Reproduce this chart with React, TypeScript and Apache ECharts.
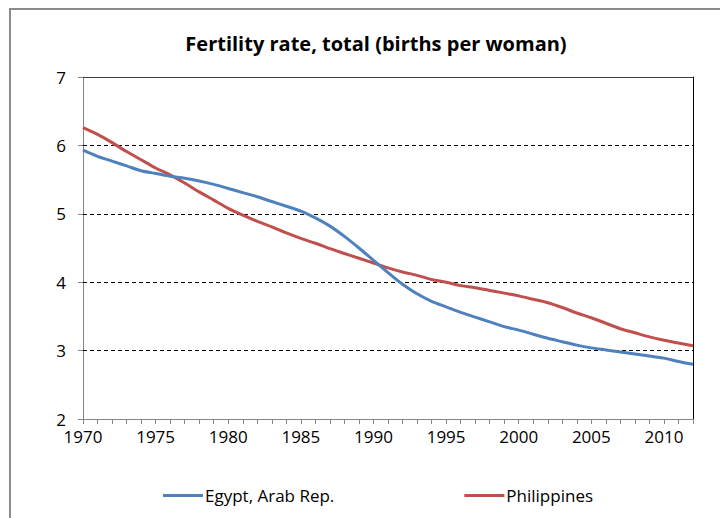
import React, { useEffect, useRef } from "react";
import * as echarts from "echarts";

const years: string[] = [];
for (let y = 1970; y <= 2012; y++) years.push(String(y));

const egypt = [
  5.93, 5.84, 5.77, 5.70, 5.63, 5.59, 5.55, 5.52, 5.48, 5.43,
  5.37, 5.31, 5.25, 5.18, 5.11, 5.04, 4.94, 4.82, 4.67, 4.50,
  4.32, 4.14, 3.97, 3.83, 3.72, 3.64, 3.56, 3.49, 3.42, 3.35,
  3.30, 3.24, 3.18, 3.13, 3.08, 3.04, 3.01, 2.98, 2.95, 2.92,
  2.89, 2.84, 2.80,
];

const philippines = [
  6.26, 6.16, 6.04, 5.91, 5.79, 5.67, 5.57, 5.45, 5.32, 5.20,
  5.08, 4.98, 4.89, 4.81, 4.72, 4.64, 4.57, 4.49, 4.42, 4.35,
  4.28, 4.21, 4.15, 4.10, 4.04, 4.00, 3.95, 3.92, 3.88, 3.84,
  3.80, 3.75, 3.70, 3.63, 3.55, 3.48, 3.40, 3.32, 3.26, 3.20,
  3.15, 3.11, 3.07,
];

const gridValues = [3, 4, 5, 6];

const FONT = "'Open Sans', 'Noto Sans', sans-serif";

export default function App() {
  const ref = useRef<HTMLDivElement>(null);
  useEffect(() => {
    if (!ref.current) return;
    const chart = echarts.init(ref.current, undefined, { renderer: "svg" });
    chart.setOption({
      animation: false,
      backgroundColor: "#fff",
      textStyle: { fontFamily: FONT },
      title: {
        text: "Fertility rate, total (births per woman)",
        left: 371,
        top: 28,
        textAlign: "center",
        textStyle: { fontFamily: FONT, fontSize: 20, fontWeight: "bold", color: "#000" },
      },
      graphic: [
        {
          type: "rect",
          shape: { x: 10, y: 9, width: 900, height: 700 },
          style: { fill: "none", stroke: "#8c8c8c", lineWidth: 2 },
          silent: true,
        },
      ],
      legend: {
        left: 158,
        top: 482,
        itemWidth: 40,
        itemHeight: 3,
        itemGap: 130,
        icon: "rect",
        textStyle: { fontFamily: FONT, fontSize: 17, color: "#000", padding: [0, 0, 0, -3] },
        data: ["Egypt, Arab Rep.", "Philippines"],
      },
      grid: { left: 83, right: 27, top: 77, bottom: 99 },
      xAxis: [
        {
          type: "category",
          data: years,
          boundaryGap: false,
          axisLine: { lineStyle: { color: "#868686", width: 1 } },
          axisTick: { show: true, interval: 0, length: 5, lineStyle: { color: "#868686" } },
          axisLabel: {
            interval: (i: number) => Number(years[i]) % 5 === 0,
            margin: 9,
            fontSize: 17,
            color: "#000",
            fontFamily: FONT,
          },
          splitLine: { show: false },
        },
        {
          type: "category",
          data: years,
          position: "top",
          boundaryGap: false,
          axisLine: { lineStyle: { color: "#404040", width: 1 } },
          axisTick: { show: false },
          axisLabel: { show: false },
          splitLine: { show: false },
        },
      ],
      yAxis: [
        {
          type: "value",
          min: 2,
          max: 7,
          interval: 1,
          axisLine: { show: true, lineStyle: { color: "#868686", width: 1 } },
          axisTick: { show: true, length: 5, lineStyle: { color: "#868686" } },
          axisLabel: { margin: 17, fontSize: 17, color: "#000", fontFamily: FONT },
          splitLine: { show: false },
        },
        {
          type: "value",
          min: 2,
          max: 7,
          interval: 1,
          position: "right",
          axisLine: { show: true, lineStyle: { color: "#000", width: 1 } },
          axisTick: { show: false },
          axisLabel: { show: false },
          splitLine: { show: false },
        },
      ],
      series: [
        {
          name: "Egypt, Arab Rep.",
          type: "line",
          data: egypt,
          smooth: 0.3,
          symbol: "none",
          color: "#4F81BD",
          lineStyle: { width: 3, color: "#4F81BD" },
          z: 3,
          markLine: {
            silent: true,
            symbol: "none",
            label: { show: false },
            lineStyle: { type: [4, 3], color: "#000", width: 1 },
            data: gridValues.map((v) => ({ yAxis: v })),
            z: 1,
          },
        },
        {
          name: "Philippines",
          type: "line",
          data: philippines,
          smooth: 0.3,
          symbol: "none",
          color: "#C0504D",
          lineStyle: { width: 3, color: "#C0504D" },
          z: 2,
        },
      ],
    });
    return () => chart.dispose();
  }, []);
  return (
    <div
      ref={ref}
      style={{ position: "absolute", left: 0, top: 0, width: 720, height: 518 }}
    />
  );
}
